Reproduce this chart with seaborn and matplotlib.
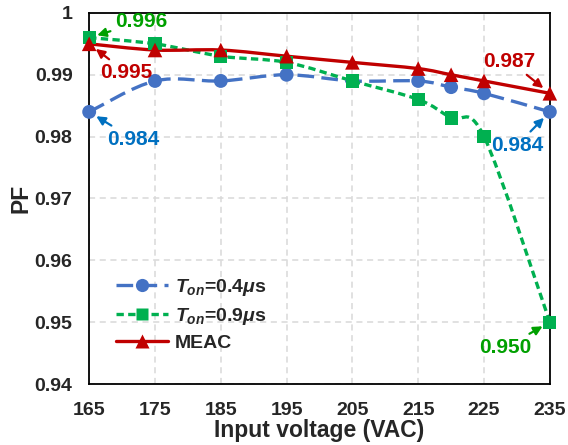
import numpy as np
import pandas as pd
import matplotlib
matplotlib.use("Agg")
import matplotlib.pyplot as plt
from matplotlib.path import Path
from matplotlib.patches import PathPatch
from matplotlib.lines import Line2D
import seaborn as sns

# Measured power factor versus input voltage
voltage = [165, 175, 185, 195, 205, 215, 220, 225, 235]
pf_ton_04 = [0.984, 0.989, 0.989, 0.990, 0.989, 0.989, 0.988, 0.987, 0.984]
pf_ton_09 = [0.996, 0.995, 0.993, 0.992, 0.989, 0.986, 0.983, 0.980, 0.950]
pf_meac = [0.995, 0.994, 0.994, 0.993, 0.992, 0.991, 0.990, 0.989, 0.987]

series_names = [r"$T_{on}$=0.4$\mu$s", r"$T_{on}$=0.9$\mu$s", "MEAC"]
x_ticks = [165, 175, 185, 195, 205, 215, 225, 235]
y_ticks = [0.94, 0.95, 0.96, 0.97, 0.98, 0.99, 1.0]
y_tick_labels = ["0.94", "0.95", "0.96", "0.97", "0.98", "0.99", "1"]

sns.set_theme(style="white")
plt.rcParams["font.family"] = ["Liberation Sans", "DejaVu Sans"]
plt.rcParams["font.weight"] = "bold"
plt.rcParams["mathtext.fontset"] = "custom"
plt.rcParams["mathtext.rm"] = "Liberation Sans:bold"
plt.rcParams["mathtext.it"] = "Liberation Sans:italic:bold"
plt.rcParams["mathtext.bf"] = "Liberation Sans:bold"

colors = ["#4472C4", "#00B050", "#C00000"]
markers = ["o", "s", "^"]
dashes = [(5, 2.2), (2.2, 1.3), ()]
msizes = [10, 9.5, 10.5]

fig, ax = plt.subplots(figsize=(5.68, 4.45), dpi=100)
fig.subplots_adjust(left=0.157, right=0.968, top=0.971, bottom=0.137)

df = pd.DataFrame({
    "voltage": voltage * 3,
    "pf": pf_ton_04 + pf_ton_09 + pf_meac,
    "series": sum([[n] * len(voltage) for n in series_names], []),
})


def smooth_path(xs, ys):
    """Cubic Bezier path through the points (Catmull-Rom style tangents)."""
    xs = np.asarray(xs, float)
    ys = np.asarray(ys, float)
    n = len(xs)
    verts = [(xs[0], ys[0])]
    codes = [Path.MOVETO]
    for i in range(n - 1):
        p0 = np.array([xs[max(i - 1, 0)], ys[max(i - 1, 0)]])
        p1 = np.array([xs[i], ys[i]])
        p2 = np.array([xs[i + 1], ys[i + 1]])
        p3 = np.array([xs[min(i + 2, n - 1)], ys[min(i + 2, n - 1)]])
        c1 = p1 + (p2 - p0) / 6.0
        c2 = p2 - (p3 - p1) / 6.0
        verts += [tuple(c1), tuple(c2), tuple(p2)]
        codes += [Path.CURVE4] * 3
    return Path(verts, codes)


# smoothed connecting curves
for vals, c, d in zip([pf_ton_04, pf_ton_09, pf_meac], colors, dashes):
    patch = PathPatch(smooth_path(voltage, vals), facecolor="none",
                      edgecolor=c, lw=2.4, zorder=3)
    if d:
        patch.set_linestyle((0, d))
    ax.add_patch(patch)

# markers
for name, c, m, s in zip(series_names, colors, markers, msizes):
    sub = df[df["series"] == name]
    sns.scatterplot(data=sub, x="voltage", y="pf", ax=ax, color=c, marker=m,
                    s=s ** 2, edgecolor="none", zorder=4, legend=False,
                    clip_on=False)

ax.set_xlim(165, 235)
ax.set_ylim(0.94, 1.0)
ax.set_xticks(x_ticks)
ax.set_yticks(y_ticks)
ax.set_yticklabels(y_tick_labels)
ax.tick_params(axis="x", labelsize=14, length=0, pad=13)
ax.tick_params(axis="y", labelsize=14, length=0, pad=12)
for lab in ax.get_xticklabels() + ax.get_yticklabels():
    lab.set_fontweight("bold")
ax.grid(True, color="#D9D9D9", linestyle=(0, (4, 3)), lw=1.1)
ax.set_axisbelow(True)
for sp in ax.spines.values():
    sp.set_color("black")
    sp.set_linewidth(1.3)
    sp.set_visible(True)
ax.set_xlabel("Input voltage (VAC)", fontsize=16.5, fontweight="bold", labelpad=0)
ax.set_ylabel("PF", fontsize=16.5, fontweight="bold")
ax.yaxis.set_label_coords(-0.122, 0.5)

# legend
handles = [Line2D([], [], color=c, marker=m, markersize=s * 0.95, lw=2.4,
                  linestyle=(0, d) if d else "-", markeredgecolor="none")
           for c, m, d, s in zip(colors, markers, dashes, msizes)]
ax.legend(handles, series_names, loc="lower left", bbox_to_anchor=(0.02, 0.04),
          frameon=False, handlelength=2.7, handletextpad=0.35, labelspacing=0.38,
          prop={"weight": "bold", "size": 14})

# value callouts
ann_kw = dict(fontsize=15, fontweight="bold", ha="center", va="center")
callouts = [
    # text, target x, target y, text x, text y, color
    ("0.996", voltage[0], pf_ton_09[0], 172.9, 0.99855, "#00A000"),
    ("0.995", voltage[0], pf_meac[0], 170.7, 0.99030, "#C00000"),
    ("0.984", voltage[0], pf_ton_04[0], 171.7, 0.97960, "#0070C0"),
    ("0.987", voltage[-1], pf_meac[-1], 228.9, 0.99220, "#C00000"),
    ("0.984", voltage[-1], pf_ton_04[-1], 230.0, 0.97860, "#0070C0"),
    ("0.950", voltage[-1], pf_ton_09[-1], 228.3, 0.94595, "#00A000"),
]
for txt, tx, ty, lx, ly, c in callouts:
    ax.annotate(txt, xy=(tx, ty), xytext=(lx, ly), color=c,
                arrowprops=dict(arrowstyle="-|>", color=c, lw=1.6,
                                mutation_scale=13, shrinkA=1, shrinkB=6),
                zorder=5, **ann_kw)

fig.savefig("out.png", dpi=100)
